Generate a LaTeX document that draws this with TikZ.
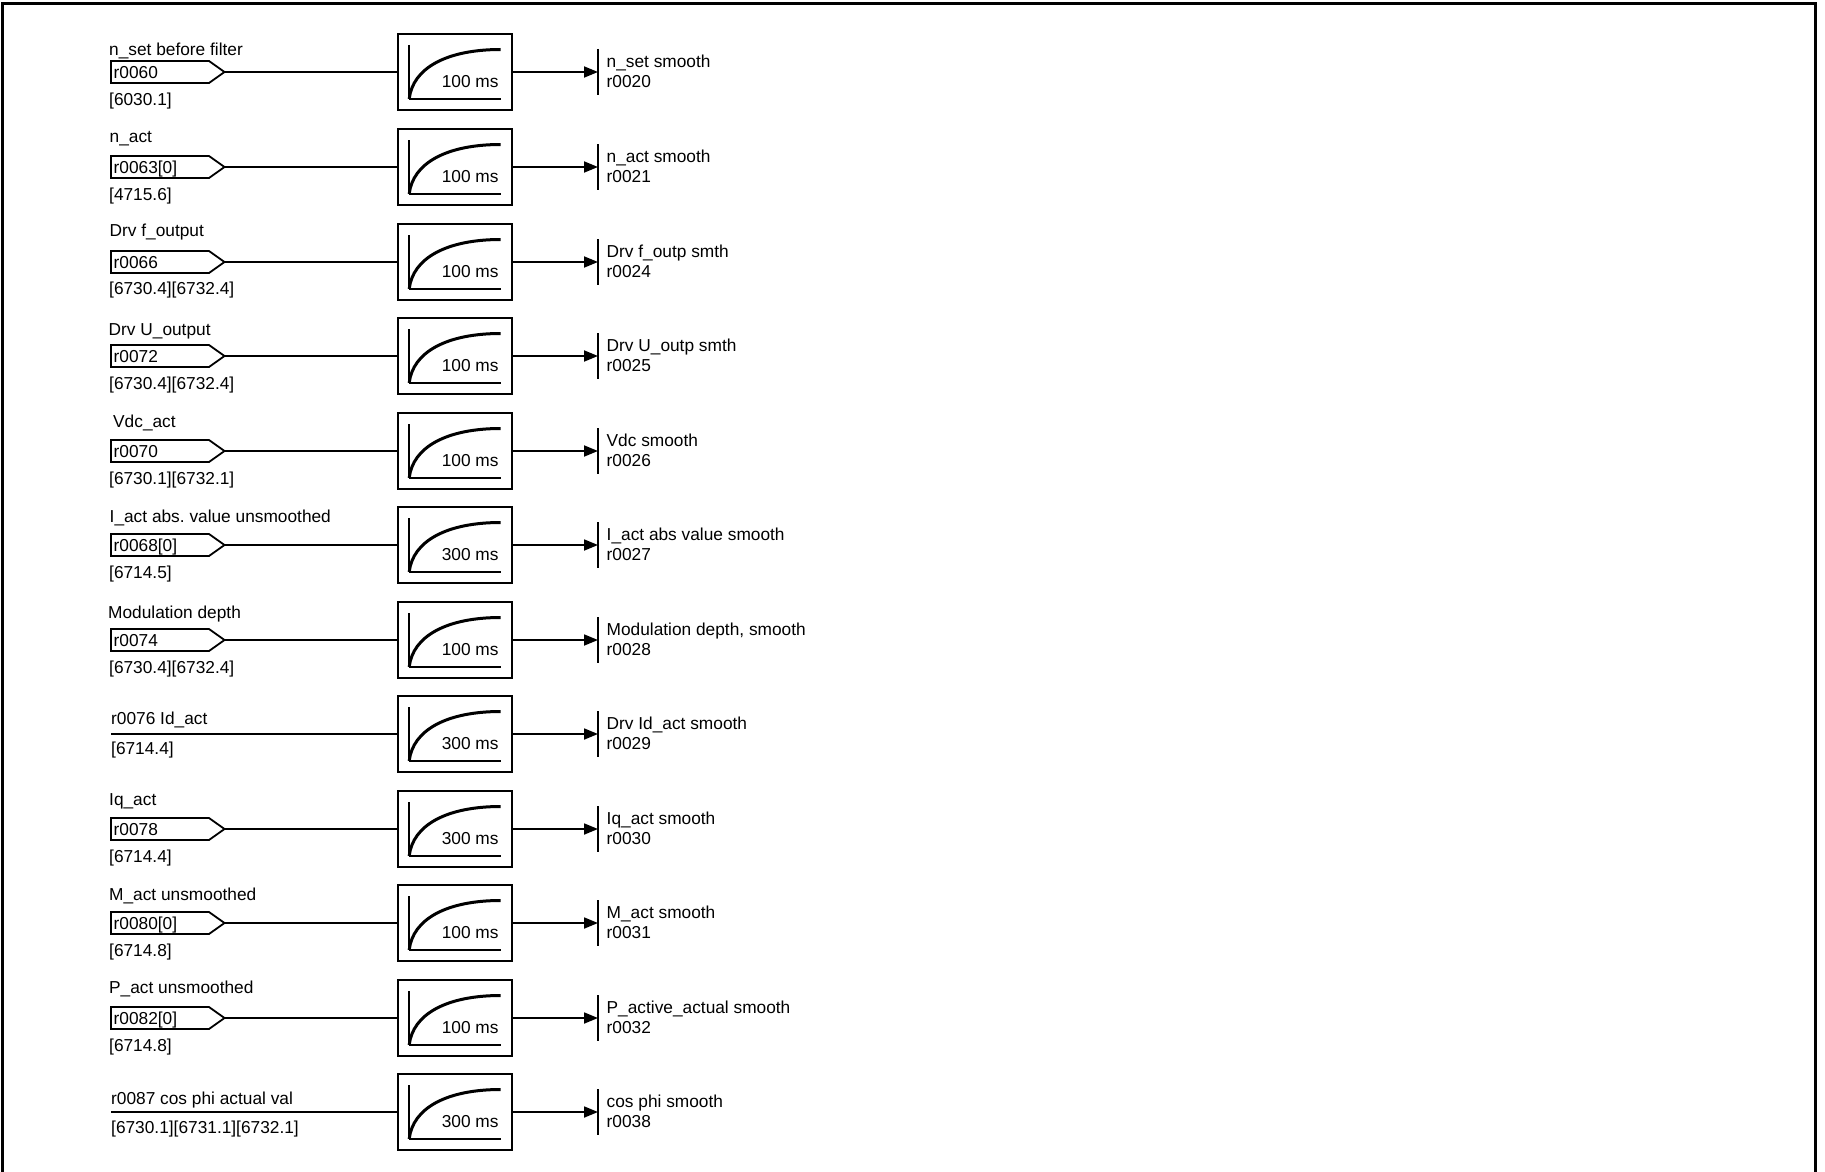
\documentclass[tikz,border=0pt]{standalone}
\usepackage{fontspec}
\setmainfont{Liberation Sans}
\usepackage{tikz}
\usetikzlibrary{calc, arrows.meta}
\frenchspacing
\tikzset{
    lbl/.style={anchor=base west, inner sep=0pt, font=\fontsize{17.3}{19}\selectfont},
    timelbl/.style={anchor=base east, inner sep=0pt, font=\fontsize{17.3}{19}\selectfont},
    filterbox/.style={draw, line width=2pt, minimum width=114pt, minimum height=76pt, inner sep=0pt},
    wire/.style={line width=1.8pt},
    sigarrow/.style={line width=1.8pt, -{Triangle[length=14pt, width=11pt]}},
    tagbox/.style={line width=1.8pt},
    curvepen/.style={line width=3pt}
}
\newcommand{\filterbody}[3]{% row name, y, time
    \node[filterbox] (box#1) at (454.7,#2) {};
    \draw[line width=1.6pt] ($(box#1.center)+(-45.5,-27)$) -- ($(box#1.center)+(-45.5,27)$);
    \draw[line width=1.6pt] ($(box#1.center)+(-45.5,27)$) -- ($(box#1.center)+(46,27)$);
    \draw[curvepen] ($(box#1.center)+(-45.5,27)$) .. controls ($(box#1.center)+(-42,-4)$) and ($(box#1.center)+(-8,-22.5)$) .. ($(box#1.center)+(46,-22.5)$);
    \node[timelbl] (time#1) at ($(box#1.center)+(44,15)$) {#3};
}
\newcommand{\outputend}[4]{% row name, y, text, parameter
    \coordinate (bar#1) at (598,#2);
    \draw[line width=1.8pt] ($(bar#1)+(0,-23)$) -- ($(bar#1)+(0,23)$);
    \draw[sigarrow] (box#1.east) -- (bar#1);
    \node[lbl] (outa#1) at (606.5,#2-5) {#3};
    \node[lbl] (outb#1) at (606.5,#2+15.5) {#4};
}
\begin{document}
\begin{tikzpicture}[x=1pt, y=-1pt]
    \useasboundingbox (0,0) rectangle (1825,1172);
    \draw[line width=3pt] (2,1172) -- (2,3.5) -- (1815,3.5) -- (1815,1172);
    % rows with a tag on the input
    \foreach \n/\y/\tm/\xa/\ya/\toptxt/\tagtxt/\yb/\lowtxt/\outtxt/\parm in {
        a/72/100 ms/109/55.5/n\_set before filter/r0060/105/{[6030.1]}/n\_set smooth/r0020,
        b/167/100 ms/109.5/142/n\_act/r0063[0]/200/{[4715.6]}/n\_act smooth/r0021,
        c/262/100 ms/109.5/236/Drv f\_output/r0066/294.5/{[6730.4][6732.4]}/Drv f\_outp smth/r0024,
        d/356/100 ms/108.5/335/Drv U\_output/r0072/389/{[6730.4][6732.4]}/Drv U\_outp smth/r0025,
        e/451/100 ms/113/427/Vdc\_act/r0070/484/{[6730.1][6732.1]}/Vdc smooth/r0026,
        f/545/300 ms/109.5/522/I\_act abs. value unsmoothed/r0068[0]/578.5/{[6714.5]}/I\_act abs value smooth/r0027,
        g/640/100 ms/108/618/Modulation depth/r0074/673/{[6730.4][6732.4]}/{Modulation depth, smooth}/r0028,
        i/829/300 ms/109/805/Iq\_act/r0078/862/{[6714.4]}/Iq\_act smooth/r0030,
        j/923/100 ms/109/900/M\_act unsmoothed/r0080[0]/956.5/{[6714.8]}/M\_act smooth/r0031,
        k/1018/100 ms/109/993.5/P\_act unsmoothed/r0082[0]/1051/{[6714.8]}/P\_active\_actual smooth/r0032} {
        \filterbody{\n}{\y}{\tm}
        \outputend{\n}{\y}{\outtxt}{\parm}
        \draw[tagbox] (111,\y-11) -- (209,\y-11) -- (224.5,\y) -- (209,\y+11) -- (111,\y+11) -- cycle;
        \coordinate (tip\n) at (224.5,\y);
        \node[lbl] (tag\n) at (113.5,\y+6) {\tagtxt};
        \node[lbl] (top\n) at (\xa,\ya) {\toptxt};
        \node[lbl] (low\n) at (109,\yb) {\lowtxt};
        \draw[wire] (tip\n) -- (box\n.west);
    }
    % rows with a plain input line
    \foreach \n/\y/\tm/\ya/\toptxt/\yb/\lowtxt/\outtxt/\parm in {
        h/734/300 ms/724/r0076 Id\_act/754/{[6714.4]}/Drv Id\_act smooth/r0029,
        l/1112/300 ms/1104/r0087 cos phi actual val/1133/{[6730.1][6731.1][6732.1]}/cos phi smooth/r0038} {
        \filterbody{\n}{\y}{\tm}
        \outputend{\n}{\y}{\outtxt}{\parm}
        \coordinate (start\n) at (111,\y);
        \node[lbl] (top\n) at (111,\ya) {\toptxt};
        \node[lbl] (low\n) at (111,\yb) {\lowtxt};
        \draw[wire] (start\n) -- (box\n.west);
    }
\end{tikzpicture}
\end{document}
